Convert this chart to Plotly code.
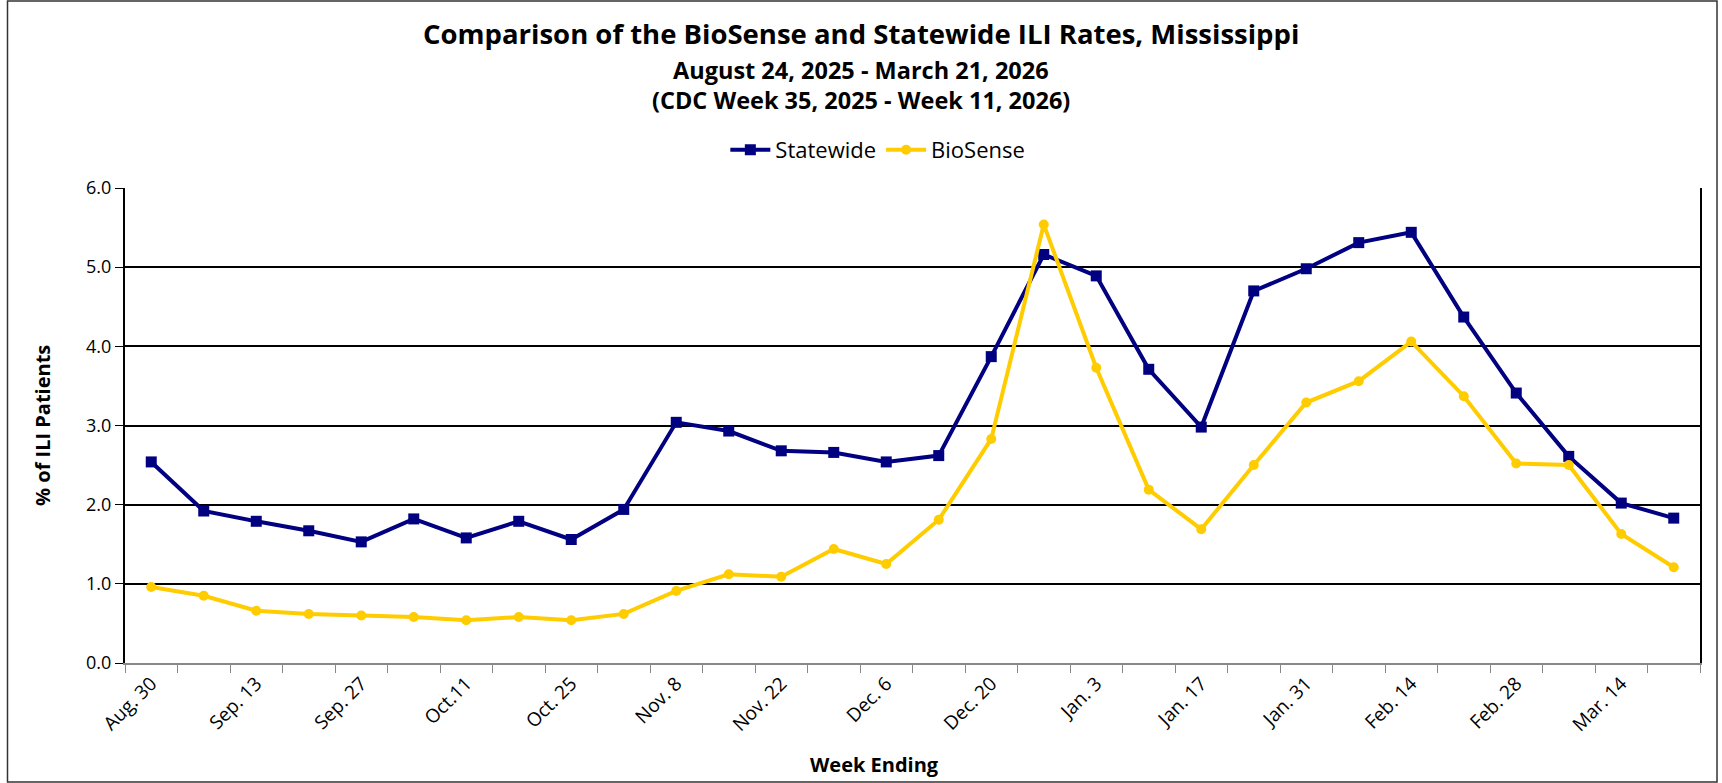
import plotly.graph_objects as go

weeks = ["Aug. 30", "Sep. 6", "Sep. 13", "Sep. 20", "Sep. 27", "Oct. 4", "Oct.11", "Oct. 18",
         "Oct. 25", "Nov. 1", "Nov. 8", "Nov. 15", "Nov. 22", "Nov. 29", "Dec. 6", "Dec. 13",
         "Dec. 20", "Dec. 27", "Jan. 3", "Jan. 10", "Jan. 17", "Jan. 24", "Jan. 31", "Feb. 7",
         "Feb. 14", "Feb. 21", "Feb. 28", "Mar. 7", "Mar. 14", "Mar. 21"]

statewide = [2.54, 1.92, 1.79, 1.67, 1.53, 1.82, 1.58, 1.79, 1.56, 1.94,
             3.04, 2.93, 2.68, 2.66, 2.54, 2.62, 3.87, 5.16, 4.89, 3.71,
             2.98, 4.70, 4.98, 5.31, 5.44, 4.37, 3.41, 2.61, 2.02, 1.83]

biosense = [0.96, 0.85, 0.66, 0.62, 0.60, 0.58, 0.54, 0.58, 0.54, 0.62,
            0.91, 1.12, 1.09, 1.44, 1.25, 1.81, 2.83, 5.54, 3.73, 2.19,
            1.69, 2.50, 3.29, 3.56, 4.06, 3.37, 2.52, 2.50, 1.63, 1.21]

tick_text = [w if i % 2 == 0 else "" for i, w in enumerate(weeks)]

FONT = "Open Sans"

fig = go.Figure()
fig.add_trace(go.Scatter(
    x=weeks, y=statewide, name="Statewide", mode="lines+markers",
    line=dict(color="#000080", width=4),
    marker=dict(symbol="square", size=11, color="#000080"),
))
fig.add_trace(go.Scatter(
    x=weeks, y=biosense, name="BioSense", mode="lines+markers",
    line=dict(color="#FFCC00", width=4),
    marker=dict(symbol="circle", size=10, color="#FFCC00"),
))

fig.update_layout(
    width=1722, height=783,
    margin=dict(l=125, r=22, t=188, b=120),
    paper_bgcolor="white", plot_bgcolor="white",
    font=dict(family=FONT, color="black", size=18),
    showlegend=True,
    legend=dict(orientation="h", x=0.478, xanchor="center", y=1.08, yanchor="middle",
                font=dict(size=22, family=FONT), itemwidth=40, tracegroupgap=0,
                bgcolor="rgba(0,0,0,0)"),
    xaxis=dict(
        type="category", categoryorder="array", categoryarray=weeks,
        tickmode="array", tickvals=weeks, ticktext=tick_text,
        tickson="boundaries", ticks="outside", ticklen=8, tickcolor="#888888",
        tickangle=-45, tickfont=dict(size=19, family=FONT),
        showline=True, linecolor="#888888", linewidth=2,
        showgrid=False, zeroline=False, range=[-0.5, 29.5],
    ),
    yaxis=dict(
        range=[0, 6], dtick=1, tick0=0, tickformat=".1f",
        ticks="outside", ticklen=8, tickcolor="black",
        showline=True, linecolor="black", linewidth=2, mirror=True,
        showgrid=True, gridcolor="black", gridwidth=1.5,
        zeroline=False, tickfont=dict(size=18, family=FONT),
    ),
)

annotations = [
    dict(text="<b>Comparison of the BioSense and Statewide ILI Rates, Mississippi</b>",
         x=0.467, y=1.3263, font=dict(size=27.5, family=FONT)),
    dict(text="<b>August 24, 2025 - March 21, 2026</b>",
         x=0.467, y=1.2484, font=dict(size=23.5, family=FONT)),
    dict(text="<b>(CDC Week 35, 2025 - Week 11, 2026)</b>",
         x=0.467, y=1.1853, font=dict(size=23.5, family=FONT)),
    dict(text="<b>% of ILI Patients</b>", x=-0.0524, y=0.5, textangle=-90,
         font=dict(size=20, family=FONT)),
    dict(text="<b>Week Ending</b>", x=0.476, y=-0.2147,
         font=dict(size=20, family=FONT)),
]
for a in annotations:
    a.update(xref="paper", yref="paper", showarrow=False, xanchor="center", yanchor="middle")
fig.update_layout(annotations=annotations)

fig.add_shape(type="rect", xref="paper", yref="paper",
              x0=-0.0746, x1=1.0108, y0=-0.2505, y1=1.3937,
              line=dict(color="#333333", width=1.5), layer="below")

fig.write_html(
    "out.html",
    config={"displayModeBar": False},
    post_script="document.body.style.margin='0';document.body.style.overflow='hidden';",
)
